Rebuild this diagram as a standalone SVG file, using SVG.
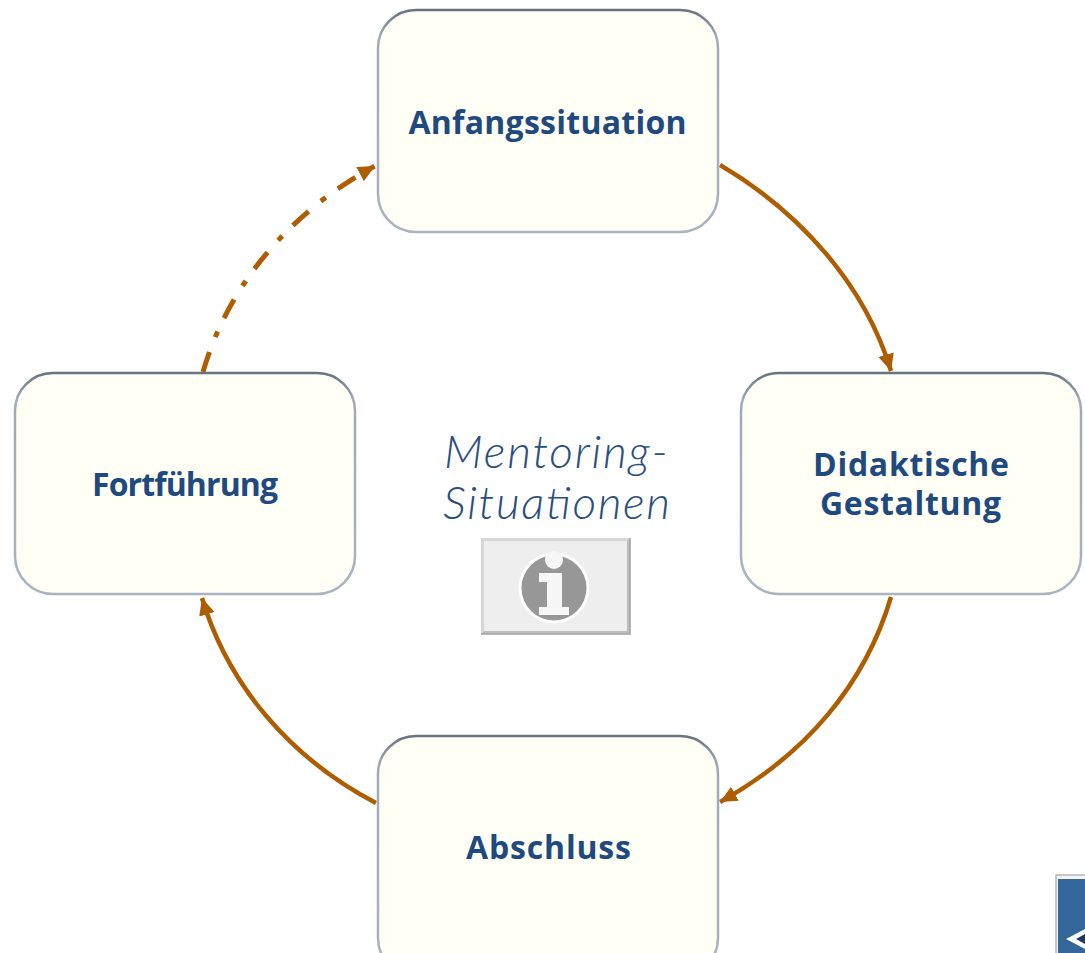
<svg xmlns="http://www.w3.org/2000/svg" width="1085" height="953" viewBox="0 0 1085 953">
<style>
.b{fill:#fffff6;stroke-width:2.5}
.l{font-family:"Open Sans","Liberation Sans",sans-serif;font-weight:700;font-size:32px;fill:#1f4a7f;text-anchor:middle}
.m{font-family:"Lato","Liberation Sans",sans-serif;font-style:italic;font-weight:300;font-size:46px;fill:#2a4f80;text-anchor:middle}
.c{fill:none;stroke:#ae5e00;stroke-width:4.5}
</style>
<defs>
<marker id="a" markerUnits="userSpaceOnUse" markerWidth="20" markerHeight="20" refX="17" refY="8" orient="auto"><path d="M0 0L17 8L0 16Z" fill="#ae5e00"/></marker>
<linearGradient id="g" x1="0" y1="0" x2="0" y2="1"><stop offset="0" stop-color="#66727f"/><stop offset=".12" stop-color="#9eaab7"/><stop offset="1" stop-color="#a9b4c0"/></linearGradient>
</defs>
<rect width="1085" height="953" fill="#fff"/>
<g id="connectors">
<path class="c" marker-end="url(#a)" d="M720 165C800 212 865 285 891 371"/>
<path class="c" marker-end="url(#a)" d="M891 597C865 685 805 755 720 802"/>
<path class="c" marker-end="url(#a)" d="M376 803C290 758 228 685 202 598"/>
<path class="c" style="stroke-width:5" marker-end="url(#a)" stroke-dasharray="21 16 6 15" d="M203 372C228 285 290 212 375 166"/>
</g>
<g id="anfangssituation"><rect class="b" stroke="url(#g)" x="378" y="10" width="340" height="222" rx="38"/><text class="l" x="547.5" y="134" textLength="278">Anfangssituation</text></g>
<g id="didaktische"><rect class="b" stroke="url(#g)" x="741" y="373" width="340" height="221" rx="38"/><text class="l" x="911" y="476" textLength="196">Didaktische</text><text class="l" x="910.5" y="515" textLength="181">Gestaltung</text></g>
<g id="abschluss"><rect class="b" stroke="url(#g)" x="378" y="736" width="340" height="240" rx="38"/><text class="l" x="548.5" y="859" textLength="165">Abschluss</text></g>
<g id="fortfuehrung"><rect class="b" stroke="url(#g)" x="15" y="373" width="340" height="221" rx="38"/><text class="l" x="185" y="496" textLength="186">Fortführung</text></g>
<g id="center"><text class="m" x="556" y="468" textLength="224">Mentoring-</text><text class="m" x="556.5" y="519" textLength="227">Situationen</text></g>
<g id="info">
<rect x="481" y="538" width="149" height="96" fill="#eeeeee"/>
<path d="M481 538H630L627 541H484V631L481 634Z" fill="#d6d6d6"/>
<path d="M630 538V634H481L484 631H627V541Z" fill="#bdbdbd"/>
<path d="M630 538V634H481" fill="none" stroke="#a2a2a2" stroke-width="1.5"/>
<circle cx="554" cy="588" r="35.5" fill="#fff"/><circle cx="554" cy="588" r="32.5" fill="#979797"/>
<circle cx="554" cy="560" r="9" fill="#f7f7f7"/>
<path d="M539 573H562V607H569V615H539V607H547V582H539Z" fill="#f7f7f7"/>
</g>
<g id="nav">
<rect x="1056" y="875" width="31" height="80" fill="#f4f4f4" stroke="#b5b5b5" stroke-width="1.5"/>
<rect x="1058" y="879" width="29" height="76" fill="#336699"/>
<path d="M1066 939L1085 929V949Z" fill="#fff"/>
<path d="M1076 939L1085 934V944Z" fill="#1d3a5c"/>
</g>
</svg>
